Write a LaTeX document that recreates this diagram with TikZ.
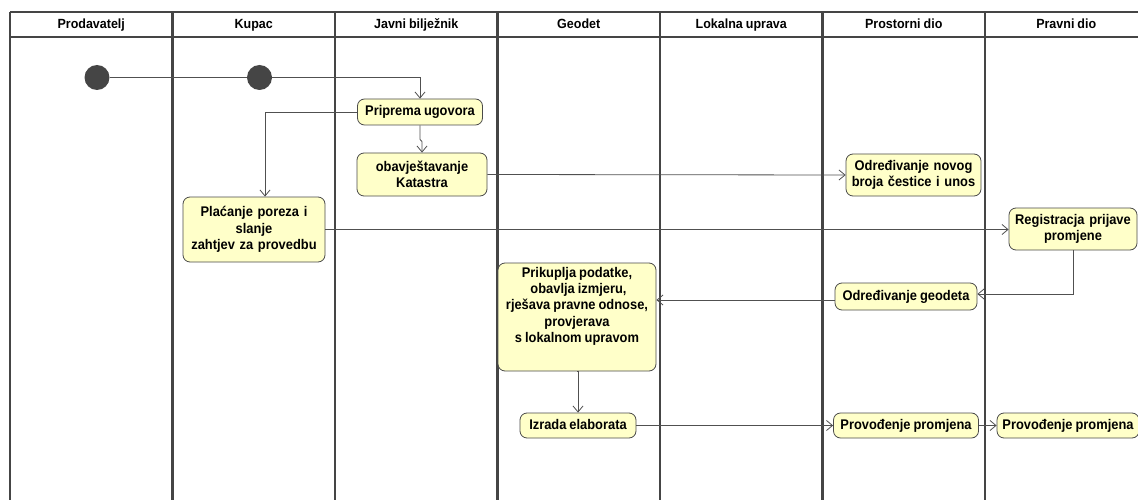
\documentclass[tikz,border=0pt]{standalone}
\usepackage{fontspec}
\setmainfont{Liberation Sans}
\newfontfamily\actfont{Liberation Sans Bold}[FakeStretch=0.92]
\newfontfamily\headfont{Liberation Sans Bold}[FakeStretch=0.94]
\newcommand\actstyle{\actfont\fontsize{14}{16.3}\selectfont\spaceskip=3pt plus 1pt minus 0.5pt\relax}
\newcommand\headstyle{\headfont\fontsize{13.3}{15}\selectfont\spaceskip=3pt\relax}
\usetikzlibrary{arrows.meta,calc}
\definecolor{lanecol}{HTML}{454545}
\definecolor{actfill}{HTML}{FFFFC9}
\definecolor{actdraw}{HTML}{4A4A4A}
\definecolor{flowcol}{HTML}{505050}
\tikzset{
  lane/.style={draw=lanecol, line width=2.2pt},
  lanehead/.style={font=\headstyle, anchor=base},
  act/.style={draw=actdraw, fill=actfill, line width=0.8pt, rounded corners=7pt,
    align=center, inner sep=0pt, font=\actstyle},
  oneline/.style={text height=10pt, text depth=3pt},
  startnode/.style={circle, fill=lanecol, minimum size=25pt, inner sep=0pt},
  flow/.style={draw=flowcol, line width=0.8pt, -{Straight Barb[length=6pt,width=10pt]}},
  plain/.style={draw=flowcol, line width=0.8pt},
}
\begin{document}
\begin{tikzpicture}[x=1pt,y=-1pt]
\useasboundingbox (0,0) rectangle (1138,500);
\clip (0,0) rectangle (1138,500);
\fill[white] (0,0) rectangle (1138,500);

% swimlane frame
\draw[lanecol, line width=1.6pt] (10,12) -- (1160,12);
\draw[lanecol, line width=2.2pt] (10,37) -- (1160,37);
\foreach \x in {10,172.5,335,497.5,660,822.5,985,1147.5}
  \draw[lane] (\x,12) -- (\x,520);

% lane titles
\node[lanehead] (h1) at (91.25,28.5) {Prodavatelj};
\node[lanehead] (h2) at (253.75,28.5) {Kupac};
\node[lanehead] (h3) at (416.25,28.5) {Javni bilježnik};
\node[lanehead] (h4) at (578.75,28.5) {Geodet};
\node[lanehead] (h5) at (741.25,28.5) {Lokalna uprava};
\node[lanehead] (h6) at (903.75,28.5) {Prostorni dio};
\node[lanehead] (h7) at (1066.25,28.5) {Pravni dio};

% initial nodes
\node[startnode] (s1) at (97,77.5) {};
\node[startnode] (s2) at (259.5,77.5) {};

% activities
\node[act, oneline, minimum width=125pt, minimum height=26pt] (prip) at (420,112) {Priprema ugovora};
\node[act, minimum width=130pt, minimum height=43pt, text width=124pt] (obav) at (422,174.5) {obavještavanje\\Katastra};
\node[act, minimum width=142pt, minimum height=65pt, text width=138pt] (plac) at (254,229.5) {Plaćanje poreza i\\slanje\\zahtjev za provedbu};
\node[act, minimum width=135pt, minimum height=42pt, text width=131pt] (odnov) at (913.5,175) {Određivanje novog\\broja čestice i unos};
\node[act, minimum width=128pt, minimum height=42pt, text width=124pt] (reg) at (1073,229) {Registracja prijave\\promjene};
\node[act, oneline, minimum width=142pt, minimum height=27pt] (odgeo) at (906,296.5) {Određivanje geodeta};
\node[act, minimum width=158pt, minimum height=108pt] (prik) at (577,317)
  {\parbox[c][100pt][t]{154pt}{\centering\actstyle Prikuplja podatke,\\ \ obavlja izmjeru,\\rješava pravne odnose,\\provjerava\\s lokalnom upravom}};
\node[act, oneline, minimum width=116pt, minimum height=25pt] (izr) at (578,425.5) {Izrada elaborata};
\node[act, oneline, minimum width=145pt, minimum height=25pt] (prov1) at (906,425.5) {Provođenje promjena};
\node[act, oneline, minimum width=142pt, minimum height=25pt] (prov2) at (1068,425.5) {Provođenje promjena};

% control flow
\draw[plain] (s1.east) -- (s2.west);
\draw[flow] (s2.east) -| (prip.north);
\draw[flow] (prip.south) -- ($(prip.south)+(0,14)$) -- ($(obav.north)+(0,-11)$) -- (obav.north);
\draw[flow] (prip.west) -| ([xshift=11pt]plac.north);
\draw[flow] (obav.east) -- (odnov.west);
\draw[flow] (plac.east) -- (plac.east -| reg.west);
\draw[flow] (reg.south) |- ([yshift=2.5pt]odgeo.east);
\draw[flow] ([yshift=-3.5pt]odgeo.west) -- ([yshift=-3.5pt]odgeo.west -| prik.east);
\draw[flow] (prik.south) -- (prik.south -| izr.north) -- (izr.north);
\draw[flow] (izr.east) -- (prov1.west);
\draw[flow] (prov1.east) -- (prov2.west);
\end{tikzpicture}
\end{document}
